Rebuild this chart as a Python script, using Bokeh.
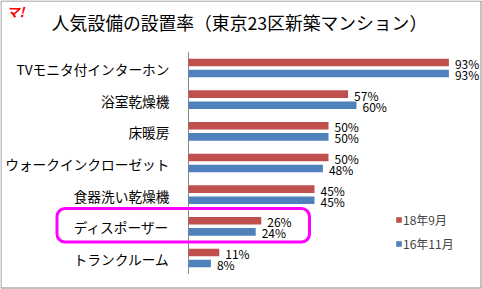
from bokeh.plotting import figure
from bokeh.models import (Range1d, ColumnDataSource, Label, BoxAnnotation,
                          Legend, LegendItem)
from bokeh.transform import dodge
from bokeh.core.properties import value
from bokeh.embed import file_html
from bokeh.resources import INLINE

categories = ["TVモニタ付インターホン", "浴室乾燥機", "床暖房", "ウォークインクローゼット",
              "食器洗い乾燥機", "ディスポーザー", "トランクルーム"]
series_2018 = [93, 57, 50, 50, 45, 26, 11]
series_2016 = [93, 60, 50, 48, 45, 24, 8]
series_names = ["18年9月", "16年11月"]
title_text = "人気設備の設置率（東京23区新築マンション）"

FONT = "Noto Sans CJK JP"
RED = "#C0504D"
BLUE = "#4F81BD"

W, H = 482, 289
AX_X = 188            # pixel of the value axis (0%)
PX_PER_PCT = 2.8
FT, FB = 51.67, 273.33  # top / bottom of category band (pixels)
n = len(categories)
unit = (FB - FT) / n

ypos = list(range(n))[::-1]   # first category on top

src = ColumnDataSource(dict(
    cat=categories,
    y=ypos,
    v18=series_2018,
    v16=series_2016,
    t18=[f"{v}%" for v in series_2018],
    t16=[f"{v}%" for v in series_2016],
))

p = figure(width=W, height=H, output_backend="svg", toolbar_location=None,
           x_range=Range1d(-AX_X / PX_PER_PCT, (W - AX_X) / PX_PER_PCT),
           y_range=Range1d(-0.5 - (H - FB) / unit, n - 0.5 + FT / unit),
           min_border=0)
p.title.visible = False
p.axis.visible = False
p.grid.visible = False
p.background_fill_color = "white"
p.border_fill_color = "white"
p.outline_line_color = None

# category axis line
p.segment(x0=[0], x1=[0], y0=[-0.5], y1=[n - 0.5], line_color="#868686", line_width=1)

# category labels
p.text(x=0, y="y", text="cat", source=src, x_offset=-19, y_offset=1,
       text_align="right", text_baseline="middle",
       text_font=value(FONT), text_font_size="13.7px", text_color="#000000")

BH = 0.24
OFF = 0.175
r18 = p.hbar(y=dodge("y", OFF), right="v18", left=0, height=BH,
             source=src, fill_color=RED, line_color=None)
r16 = p.hbar(y=dodge("y", -OFF), right="v16", left=0, height=BH,
             source=src, fill_color=BLUE, line_color=None)

p.text(x="v18", y=dodge("y", OFF), text="t18", source=src,
       x_offset=6, y_offset=1, text_align="left", text_baseline="middle",
       text_font=value(FONT), text_font_size="12px", text_color="#000000")
p.text(x="v16", y=dodge("y", -OFF), text="t16", source=src,
       x_offset=6, y_offset=1, text_align="left", text_baseline="middle",
       text_font=value(FONT), text_font_size="12px", text_color="#000000")

legend = Legend(items=[LegendItem(label=series_names[0], renderers=[r18]),
                       LegendItem(label=series_names[1], renderers=[r16])],
                location=(395, 36), orientation="vertical",
                glyph_width=7, glyph_height=7, label_height=20, spacing=4,
                label_standoff=1, padding=0, margin=0,
                label_text_font=FONT, label_text_font_size="12px",
                border_line_color=None, background_fill_alpha=0)
p.add_layout(legend)

# Title and logo
p.add_layout(Label(x=239, y=21, x_units="canvas", y_units="canvas", text=title_text,
                   text_align="center", text_baseline="middle", text_font=FONT,
                   text_font_size="17.8px", text_color="#000000"))
p.add_layout(Label(x=6, y=11, x_units="canvas", y_units="canvas", text="マ!",
                   text_align="left", text_baseline="middle", text_font=FONT,
                   text_font_size="13px", text_font_style="bold italic", text_color="#FF0000"))

# Highlight box and outer border
p.add_layout(BoxAnnotation(left=56.5, right=309, top=208, bottom=241.5,
                           left_units="canvas", right_units="canvas",
                           top_units="canvas", bottom_units="canvas",
                           fill_alpha=0, line_color="#FF00FF", line_alpha=1, line_width=3,
                           border_radius=8, level="overlay"))
p.add_layout(BoxAnnotation(left=0.5, right=480.5, top=0.5, bottom=287.5,
                           left_units="canvas", right_units="canvas",
                           top_units="canvas", bottom_units="canvas",
                           fill_alpha=0, line_color="#868686", line_alpha=1, line_width=1,
                           level="overlay"))

open("out.html", "w").write(file_html(p, INLINE))
